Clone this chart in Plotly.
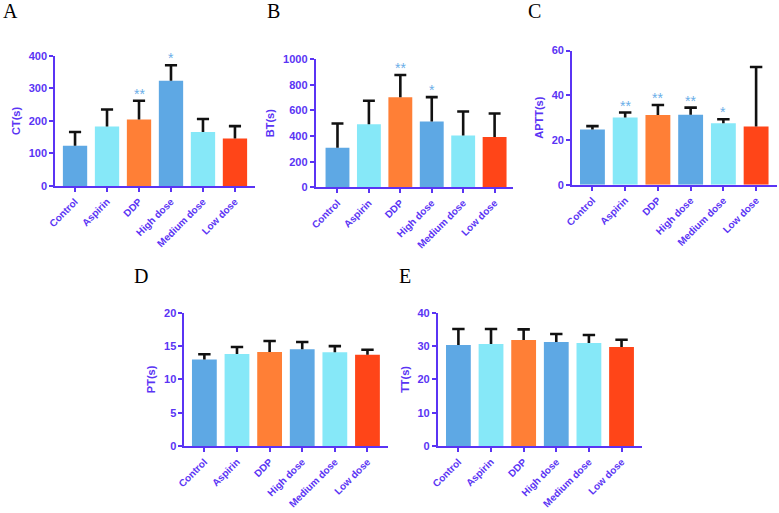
import plotly.graph_objects as go

categories = ["Control", "Aspirin", "DDP", "High dose", "Medium dose", "Low dose"]
bar_colors = ["#5ea8e4", "#86e8f8", "#ff7f36", "#5ea8e4", "#86e8f8", "#ff4518"]

ct_mean = [124, 183, 204, 323, 166, 146]
ct_err = [42, 52, 58, 48, 40, 38]
ct_sig = ["", "", "**", "*", "", ""]

bt_mean = [308, 492, 703, 513, 405, 392]
bt_err = [190, 183, 173, 190, 186, 184]
bt_sig = ["", "", "**", "*", "", ""]

aptt_mean = [24.7, 30.1, 31.2, 31.3, 27.5, 26.1]
aptt_err = [1.5, 2.2, 4.5, 3.2, 1.8, 26.6]
aptt_sig = ["", "**", "**", "**", "*", ""]

pt_mean = [13.0, 13.8, 14.1, 14.5, 14.05, 13.7]
pt_err = [0.76, 1.05, 1.65, 1.1, 0.93, 0.74]
pt_sig = ["", "", "", "", "", ""]

tt_mean = [30.3, 30.6, 31.8, 31.2, 30.9, 29.7]
tt_err = [4.8, 4.5, 3.2, 2.4, 2.4, 2.2]
tt_sig = ["", "", "", "", "", ""]

panels = [
    dict(letter="A", title="CT(s)", mean=ct_mean, err=ct_err, sig=ct_sig, ymax=400, dtick=100,
         xdom=[47.7, 250], ydom=[184.3, 51], xr=[-0.62, 5.64], lx=3, ly=5.5),
    dict(letter="B", title="BT(s)", mean=bt_mean, err=bt_err, sig=bt_sig, ymax=1000, dtick=200,
         xdom=[311, 510.7], ydom=[185.7, 54.3], xr=[-0.69, 5.6], lx=268, ly=5.5),
    dict(letter="C", title="APTT(s)", mean=aptt_mean, err=aptt_err, sig=aptt_sig, ymax=60, dtick=20,
         xdom=[570, 776.7], ydom=[183, 45.7], xr=[-0.62, 5.63], lx=531.5, ly=5.5),
    dict(letter="D", title="PT(s)", mean=pt_mean, err=pt_err, sig=pt_sig, ymax=20, dtick=5,
         xdom=[178.3, 384.3], ydom=[450.7, 314], xr=[-0.61, 5.64], lx=134, ly=276.5),
    dict(letter="E", title="TT(s)", mean=tt_mean, err=tt_err, sig=tt_sig, ymax=40, dtick=10,
         xdom=[434.3, 641], ydom=[450.7, 314], xr=[-0.63, 5.64], lx=401.5, ly=276.5),
]

W, H = 779, 513
axc = "#5a34f4"
cap = 0.19
fig = go.Figure()
annotations = []
for i, p in enumerate(panels):
    n = "" if i == 0 else str(i + 1)
    xa, ya = "x" + n, "y" + n
    xs = list(range(len(categories)))
    fig.add_trace(go.Bar(
        x=xs, y=p["mean"], width=0.76,
        marker=dict(color=bar_colors, line=dict(width=0)),
        xaxis=xa, yaxis=ya, showlegend=False, hoverinfo="skip"))
    ex, ey = [], []
    for j in xs:
        top = p["mean"][j] + p["err"][j]
        ex += [j, j, None, j - cap, j + cap, None]
        ey += [p["mean"][j], top, None, top, top, None]
    fig.add_trace(go.Scatter(x=ex, y=ey, mode="lines", line=dict(color="#111111", width=2.6),
                             xaxis=xa, yaxis=ya, showlegend=False, hoverinfo="skip", cliponaxis=False))
    fig.update_layout(**{
        "xaxis" + n: dict(domain=[p["xdom"][0] / W, p["xdom"][1] / W], range=p["xr"],
                          tickmode="array", tickvals=xs, ticktext=categories,
                          tickangle=-45, showline=True, linecolor=axc, linewidth=2,
                          ticks="outside", ticklen=4, tickwidth=1.5, tickcolor=axc,
                          showgrid=False, zeroline=False, anchor=ya,
                          tickfont=dict(family="Liberation Sans", size=10, color=axc, weight="bold")),
        "yaxis" + n: dict(domain=[1 - p["ydom"][0] / H, 1 - p["ydom"][1] / H], range=[0, p["ymax"]],
                          dtick=p["dtick"], showline=True, linecolor=axc, linewidth=2,
                          ticks="outside", ticklen=4, tickwidth=1.5, tickcolor=axc,
                          showgrid=False, zeroline=False, anchor=xa,
                          title=dict(text=p["title"], standoff=6,
                                     font=dict(family="Liberation Sans", size=11, color=axc, weight="bold")),
                          tickfont=dict(family="Liberation Sans", size=11, color=axc, weight="bold")),
    })
    for j, s in enumerate(p["sig"]):
        if s:
            annotations.append(dict(x=j, y=p["mean"][j] + p["err"][j], xref=xa, yref=ya,
                                    text=s, showarrow=False, yanchor="bottom", yshift=-3,
                                    font=dict(family="Liberation Sans", size=14, color="#6aaee8")))
    annotations.append(dict(x=p["lx"] / W, y=1 - p["ly"] / H, xref="paper", yref="paper",
                            xanchor="center", yanchor="middle", text=p["letter"], showarrow=False,
                            font=dict(family="Liberation Serif", size=20, color="black")))

fig.update_layout(width=W, height=H, margin=dict(l=0, r=0, t=0, b=0),
                  paper_bgcolor="white", plot_bgcolor="white", annotations=annotations)
fig.write_html("out.html")
